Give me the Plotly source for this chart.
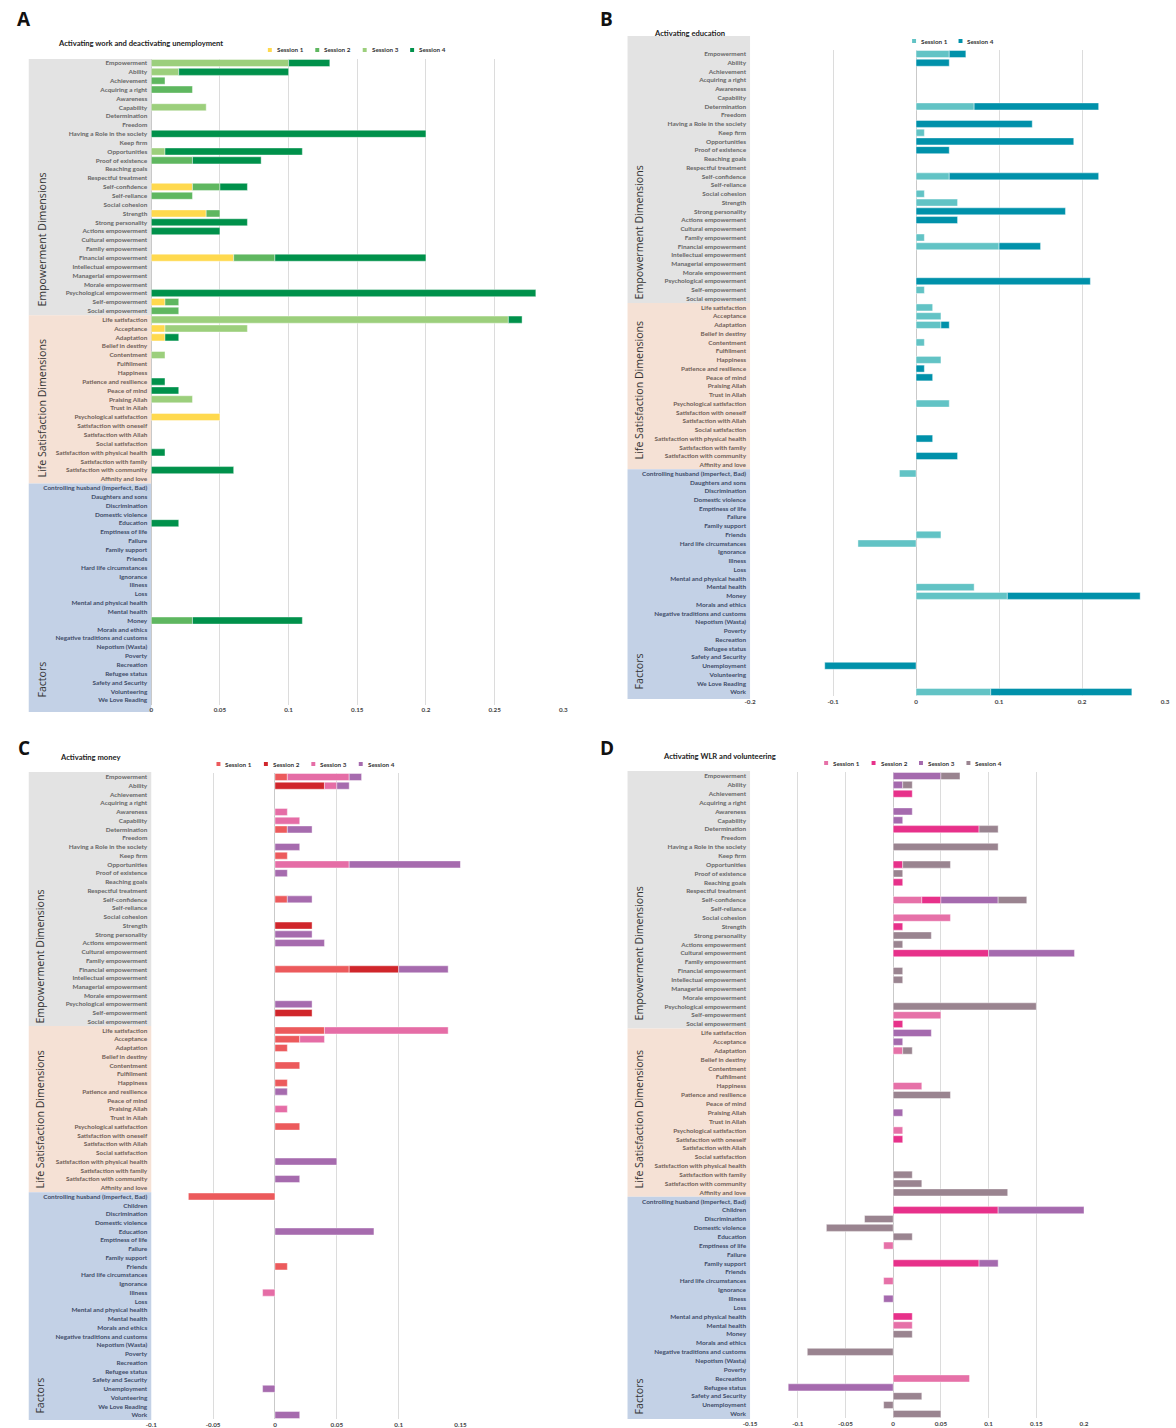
import plotly.graph_objects as go

W, H = 1176, 1428

# ---------------- categories ----------------
EMP = ["Empowerment", "Ability", "Achievement", "Acquiring a right", "Awareness", "Capability",
       "Determination", "Freedom", "Having a Role in the society", "Keep firm", "Opportunities",
       "Proof of existence", "Reaching goals", "Respectful treatment", "Self-confidence",
       "Self-reliance", "Social cohesion", "Strength", "Strong personality", "Actions empowerment",
       "Cultural empowerment", "Family empowerment", "Financial empowerment",
       "Intellectual empowerment", "Managerial empowerment", "Morale empowerment",
       "Psychological empowerment", "Self-empowerment", "Social empowerment"]
LS = ["Life satisfaction", "Acceptance", "Adaptation", "Belief in destiny", "Contentment",
      "Fulfillment", "Happiness", "Patience and resilience", "Peace of mind", "Praising Allah",
      "Trust in Allah", "Psychological satisfaction", "Satisfaction with oneself",
      "Satisfaction with Allah", "Social satisfaction", "Satisfaction with physical health",
      "Satisfaction with family", "Satisfaction with community", "Affinity and love"]
FACT_A = ["Controlling husband (Imperfect, Bad)", "Daughters and sons", "Discrimination",
          "Domestic violence", "Education", "Emptiness of life", "Failure", "Family support",
          "Friends", "Hard life circumstances", "Ignorance", "Illness", "Loss",
          "Mental and physical health", "Mental health", "Money", "Morals and ethics",
          "Negative traditions and customs", "Nepotism (Wasta)", "Poverty", "Recreation",
          "Refugee status", "Safety and Security", "Volunteering", "We Love Reading"]
FACT_B = ["Controlling husband (Imperfect, Bad)", "Daughters and sons", "Discrimination",
          "Domestic violence", "Emptiness of life", "Failure", "Family support", "Friends",
          "Hard life circumstances", "Ignorance", "Illness", "Loss", "Mental and physical health",
          "Mental health", "Money", "Morals and ethics", "Negative traditions and customs",
          "Nepotism (Wasta)", "Poverty", "Recreation", "Refugee status", "Safety and Security",
          "Unemployment", "Volunteering", "We Love Reading", "Work"]
FACT_C = ["Controlling husband (Imperfect, Bad)", "Children", "Discrimination", "Domestic violence",
          "Education", "Emptiness of life", "Failure", "Family support", "Friends",
          "Hard life circumstances", "Ignorance", "Illness", "Loss", "Mental and physical health",
          "Mental health", "Morals and ethics", "Negative traditions and customs",
          "Nepotism (Wasta)", "Poverty", "Recreation", "Refugee status", "Safety and Security",
          "Unemployment", "Volunteering", "We Love Reading", "Work"]
FACT_D = ["Controlling husband (Imperfect, Bad)", "Children", "Discrimination", "Domestic violence",
          "Education", "Emptiness of life", "Failure", "Family support", "Friends",
          "Hard life circumstances", "Ignorance", "Illness", "Loss", "Mental and physical health",
          "Mental health", "Money", "Morals and ethics", "Negative traditions and customs",
          "Nepotism (Wasta)", "Poverty", "Recreation", "Refugee status", "Safety and Security",
          "Unemployment", "Work"]

# ---------------- values (non-zero entries only) ----------------
# A: Activating work and deactivating unemployment
A_S1 = {"Self-confidence": 0.03, "Strength": 0.04, "Financial empowerment": 0.06,
        "Self-empowerment": 0.01, "Acceptance": 0.01, "Adaptation": 0.01,
        "Psychological satisfaction": 0.05}
A_S2 = {"Achievement": 0.01, "Acquiring a right": 0.03, "Proof of existence": 0.03,
        "Self-confidence": 0.02, "Self-reliance": 0.03, "Strength": 0.01,
        "Financial empowerment": 0.03, "Self-empowerment": 0.01, "Social empowerment": 0.02,
        "Money": 0.03}
A_S3 = {"Empowerment": 0.10, "Ability": 0.02, "Capability": 0.04, "Opportunities": 0.01,
        "Life satisfaction": 0.26, "Acceptance": 0.06, "Contentment": 0.01,
        "Praising Allah": 0.03}
A_S4 = {"Empowerment": 0.03, "Ability": 0.08, "Having a Role in the society": 0.20,
        "Opportunities": 0.10, "Proof of existence": 0.05, "Self-confidence": 0.02,
        "Strong personality": 0.07, "Actions empowerment": 0.05, "Financial empowerment": 0.11,
        "Psychological empowerment": 0.28, "Life satisfaction": 0.01, "Adaptation": 0.01,
        "Patience and resilience": 0.01, "Peace of mind": 0.02,
        "Satisfaction with physical health": 0.01, "Satisfaction with community": 0.06,
        "Education": 0.02, "Money": 0.08}

# B: Activating education
B_S1 = {"Empowerment": 0.04, "Determination": 0.07, "Keep firm": 0.01, "Self-confidence": 0.04,
        "Social cohesion": 0.01, "Strength": 0.05, "Family empowerment": 0.01,
        "Financial empowerment": 0.10, "Self-empowerment": 0.01, "Life satisfaction": 0.02,
        "Acceptance": 0.03, "Adaptation": 0.03, "Contentment": 0.01, "Happiness": 0.03,
        "Psychological satisfaction": 0.04, "Controlling husband (Imperfect, Bad)": -0.02,
        "Friends": 0.03, "Hard life circumstances": -0.07, "Mental health": 0.07,
        "Money": 0.11, "Work": 0.09}
B_S4 = {"Empowerment": 0.02, "Ability": 0.04, "Determination": 0.15,
        "Having a Role in the society": 0.14, "Opportunities": 0.19, "Proof of existence": 0.04,
        "Self-confidence": 0.18, "Strong personality": 0.18, "Actions empowerment": 0.05,
        "Financial empowerment": 0.05, "Psychological empowerment": 0.21, "Adaptation": 0.01,
        "Patience and resilience": 0.01, "Peace of mind": 0.02,
        "Satisfaction with physical health": 0.02, "Satisfaction with community": 0.05,
        "Money": 0.16, "Unemployment": -0.11, "Work": 0.17}

# C: Activating money
C_S1 = {"Empowerment": 0.01, "Determination": 0.01, "Keep firm": 0.01, "Self-confidence": 0.01,
        "Financial empowerment": 0.06, "Life satisfaction": 0.04, "Acceptance": 0.02,
        "Adaptation": 0.01, "Contentment": 0.02, "Happiness": 0.01,
        "Psychological satisfaction": 0.02, "Controlling husband (Imperfect, Bad)": -0.07,
        "Friends": 0.01}
C_S2 = {"Ability": 0.04, "Strength": 0.03, "Financial empowerment": 0.04,
        "Self-empowerment": 0.03}
C_S3 = {"Empowerment": 0.05, "Ability": 0.01, "Awareness": 0.01, "Capability": 0.02,
        "Opportunities": 0.06, "Life satisfaction": 0.10, "Acceptance": 0.02,
        "Praising Allah": 0.01, "Illness": -0.01}
C_S4 = {"Empowerment": 0.01, "Ability": 0.01, "Determination": 0.02,
        "Having a Role in the society": 0.02, "Opportunities": 0.09, "Proof of existence": 0.01,
        "Self-confidence": 0.02, "Strong personality": 0.03, "Actions empowerment": 0.04,
        "Financial empowerment": 0.04, "Psychological empowerment": 0.03,
        "Patience and resilience": 0.01, "Satisfaction with physical health": 0.05,
        "Satisfaction with community": 0.02, "Education": 0.08, "Unemployment": -0.01,
        "Work": 0.02}

# D: Activating WLR and volunteering
D_S1 = {"Self-confidence": 0.03, "Social cohesion": 0.06, "Self-empowerment": 0.05,
        "Adaptation": 0.01, "Happiness": 0.03, "Psychological satisfaction": 0.01,
        "Emptiness of life": -0.01, "Hard life circumstances": -0.01, "Mental health": 0.02,
        "Recreation": 0.08}
D_S2 = {"Achievement": 0.02, "Determination": 0.09, "Opportunities": 0.01, "Reaching goals": 0.01,
        "Self-confidence": 0.02, "Strength": 0.01, "Cultural empowerment": 0.10,
        "Social empowerment": 0.01, "Satisfaction with oneself": 0.01, "Children": 0.11,
        "Family support": 0.09, "Mental and physical health": 0.02}
D_S3 = {"Empowerment": 0.05, "Ability": 0.01, "Awareness": 0.02, "Capability": 0.01,
        "Self-confidence": 0.06, "Cultural empowerment": 0.09, "Life satisfaction": 0.04,
        "Acceptance": 0.01, "Praising Allah": 0.01, "Children": 0.09, "Family support": 0.02,
        "Illness": -0.01, "Refugee status": -0.11}
D_S4 = {"Empowerment": 0.02, "Ability": 0.01, "Determination": 0.02,
        "Having a Role in the society": 0.11, "Opportunities": 0.05, "Proof of existence": 0.01,
        "Self-confidence": 0.03, "Strong personality": 0.04, "Actions empowerment": 0.01,
        "Financial empowerment": 0.01, "Intellectual empowerment": 0.01,
        "Psychological empowerment": 0.15, "Adaptation": 0.01, "Patience and resilience": 0.06,
        "Satisfaction with family": 0.02, "Satisfaction with community": 0.03,
        "Affinity and love": 0.12, "Discrimination": -0.03, "Domestic violence": -0.07,
        "Education": 0.02, "Money": 0.02, "Negative traditions and customs": -0.09,
        "Safety and Security": 0.03, "Unemployment": -0.01, "Work": 0.05}

SESSIONS = ["Session 1", "Session 2", "Session 3", "Session 4"]
TITLES = ["Activating work and deactivating unemployment", "Activating education",
          "Activating money", "Activating WLR and volunteering"]
GROUP_NAMES = ["Empowerment Dimensions", "Life Satisfaction Dimensions", "Factors"]

TICKS_A = [0, 0.05, 0.1, 0.15, 0.2, 0.25, 0.3]
TICKTEXT_A = ["0", "0.05", "0.1", "0.15", "0.2", "0.25", "0.3"]
TICKS_B = [-0.2, -0.1, 0, 0.1, 0.2, 0.3]
TICKTEXT_B = ["-0.2", "-0.1", "0", "0.1", "0.2", "0.3"]
TICKS_C = [-0.1, -0.05, 0, 0.05, 0.1, 0.15]
TICKTEXT_C = ["-0.1", "-0.05", "0", "0.05", "0.1", "0.15"]
TICKS_D = [-0.15, -0.1, -0.05, 0, 0.05, 0.1, 0.15, 0.2]
TICKTEXT_D = ["-0.15", "-0.1", "-0.05", "0", "0.05", "0.1", "0.15", "0.2"]

# ---------------- styling / layout ----------------
BAND_COLORS = ["#E3E3E3", "#F5E1D5", "#C3D1E6"]
LABEL_COLORS = ["#666666", "#705F57", "#404C68"]
FONT = "Lato"


def px(x):
    return x / W


def py(y):
    return 1 - y / H


panels = [
    dict(letter="A", series=[A_S1, A_S2, A_S3, A_S4], names=SESSIONS,
         colors=["#FFD94E", "#5FB760", "#9CCF7C", "#00914B"], fact=FACT_A,
         xdom=(146, 563), xrange=(0, 0.3), ticks=TICKS_A, ticktext=TICKTEXT_A,
         row0=63, sp=8.85, band=(22, 146, 59, 712), letter_xy=(17, 19), title_xy=(50, 43),
         legend_x=(266, 314, 362, 410), legend_y=50, group_y=(240, 408, 680), group_x=35),
    dict(letter="B", series=[B_S1, B_S4], names=["Session 1", "Session 4"],
         colors=["#62C3C5", "#0091AA"], fact=FACT_B,
         xdom=(752, 1172), xrange=(-0.2, 0.3), ticks=TICKS_B, ticktext=TICKTEXT_B,
         row0=54, sp=8.74, band=(628, 752, 36, 699), letter_xy=(607, 19), title_xy=(653, 33),
         legend_x=(918, 965), legend_y=41, group_y=(232, 390, 671), group_x=640),
    dict(letter="C", series=[C_S1, C_S2, C_S3, C_S4], names=SESSIONS,
         colors=["#EC5A5C", "#D0262B", "#E56DA6", "#A66BAE"], fact=FACT_C,
         xdom=(146, 459), xrange=(-0.1, 0.15), ticks=TICKS_C, ticktext=TICKTEXT_C,
         row0=777, sp=8.74, band=(22, 146, 772, 1420), letter_xy=(17, 748), title_xy=(52, 757),
         legend_x=(214, 262, 310, 358), legend_y=764, group_y=(957, 1119, 1396), group_x=33),
    dict(letter="D", series=[D_S1, D_S2, D_S3, D_S4], names=SESSIONS,
         colors=["#E671A8", "#E7318A", "#A56AAE", "#9A8490"], fact=FACT_D,
         xdom=(752, 1090), xrange=(-0.15, 0.2), ticks=TICKS_D, ticktext=TICKTEXT_D,
         row0=776, sp=8.86, band=(628, 752, 771, 1419), letter_xy=(607, 748), title_xy=(662, 756),
         legend_x=(829, 877, 925, 973), legend_y=763, group_y=(953, 1119, 1396), group_x=640),
]

fig = go.Figure()
shapes, annotations = [], []
layout = {}

for i, p in enumerate(panels):
    k = "" if i == 0 else str(i + 1)
    xa, ya = "x" + k, "y" + k
    groups = [EMP, LS, p["fact"]]
    cats = EMP + LS + p["fact"]
    n = len(cats)
    colors_tick = []
    for g, grp in enumerate(groups):
        colors_tick += [LABEL_COLORS[g]] * len(grp)
    ticktext = [f'<span style="color:{c}"><b>{t}</b></span>' for t, c in zip(cats, colors_tick)]

    for s, (vals, name, col) in enumerate(zip(p["series"], p["names"], p["colors"])):
        ys = [c for c in cats if c in vals]
        xs = [vals[c] for c in ys]
        fig.add_trace(go.Bar(x=xs, y=ys, orientation="h", name=name, marker_color=col,
                             marker_line=dict(width=0.6, color="rgba(255,255,255,0.7)"),
                             xaxis=xa, yaxis=ya, showlegend=False))
        # legend entry (small square + label), placed like the original chart's legend
        lx, ly = p["legend_x"][s], p["legend_y"]
        shapes.append(dict(type="rect", xref="paper", yref="paper",
                           x0=px(lx - 2), x1=px(lx + 2), y0=py(ly + 2), y1=py(ly - 2),
                           fillcolor=col, line=dict(width=0)))
        annotations.append(dict(text=f"<b>{name}</b>", x=px(lx + 5), y=py(ly), xref="paper",
                                yref="paper", showarrow=False, xanchor="left",
                                yanchor="middle",
                                font=dict(family=FONT, size=6.3, color="#333333")))

    top = p["row0"] - p["sp"] / 2
    bot = p["row0"] + (n - 1) * p["sp"] + p["sp"] / 2
    layout["xaxis" + k] = dict(domain=[px(p["xdom"][0]), px(p["xdom"][1])],
                               range=list(p["xrange"]), anchor=ya, tickmode="array",
                               tickvals=p["ticks"], ticktext=[f"<b>{t}</b>" for t in p["ticktext"]],
                               showgrid=True, gridcolor="#DCDCDC", gridwidth=1, zeroline=True,
                               zerolinecolor="#C9C9C9", zerolinewidth=1, showline=False,
                               ticks="", tickfont=dict(family=FONT, size=6.3, color="#444444"),
                               fixedrange=True)
    layout["yaxis" + k] = dict(domain=[py(bot), py(top)], anchor=xa, type="category",
                               categoryorder="array", categoryarray=cats,
                               range=[n - 0.5, -0.5], tickmode="array", tickvals=cats,
                               ticktext=ticktext, showgrid=False, zeroline=False, ticks="",
                               showline=False, ticklabelstandoff=3,
                               tickfont=dict(family=FONT, size=6.4), fixedrange=True)

    bx0, bx1, btop, bbot = p["band"]
    b1 = p["row0"] + (len(EMP) - 0.5) * p["sp"]
    b2 = p["row0"] + (len(EMP) + len(LS) - 0.5) * p["sp"]
    for (y0, y1), fc in zip([(btop, b1), (b1, b2), (b2, bbot)], BAND_COLORS):
        shapes.append(dict(type="rect", xref="paper", yref="paper", x0=px(bx0), x1=px(bx1),
                           y0=py(y1), y1=py(y0), fillcolor=fc, line=dict(width=0),
                           layer="below"))
    for gname, gy in zip(GROUP_NAMES, p["group_y"]):
        annotations.append(dict(text=gname, x=px(p["group_x"]), y=py(gy), xref="paper",
                                yref="paper", showarrow=False, textangle=-90,
                                xanchor="center", yanchor="middle",
                                font=dict(family="Open Sans", size=10.6, color="#333333")))
    annotations.append(dict(text=f"<b>{p['letter']}</b>", x=px(p["letter_xy"][0]),
                            y=py(p["letter_xy"][1]), xref="paper", yref="paper",
                            showarrow=False, xanchor="center", yanchor="middle",
                            font=dict(family="Open Sans", size=19, color="#111111")))
    annotations.append(dict(text=f"<b>{TITLES[i]}</b>", x=px(p["title_xy"][0]),
                            y=py(p["title_xy"][1]), xref="paper", yref="paper",
                            showarrow=False, xanchor="left", yanchor="middle",
                            font=dict(family=FONT, size=7.6, color="#222222")))

fig.update_layout(width=W, height=H, margin=dict(l=0, r=0, t=0, b=0),
                  paper_bgcolor="white", plot_bgcolor="white", barmode="relative",
                  bargap=0.2, shapes=shapes, annotations=annotations, showlegend=False,
                  font=dict(family=FONT), **layout)

fig.write_html("out.html", config={"displayModeBar": False},
               post_script="document.body.style.margin='0px';")
